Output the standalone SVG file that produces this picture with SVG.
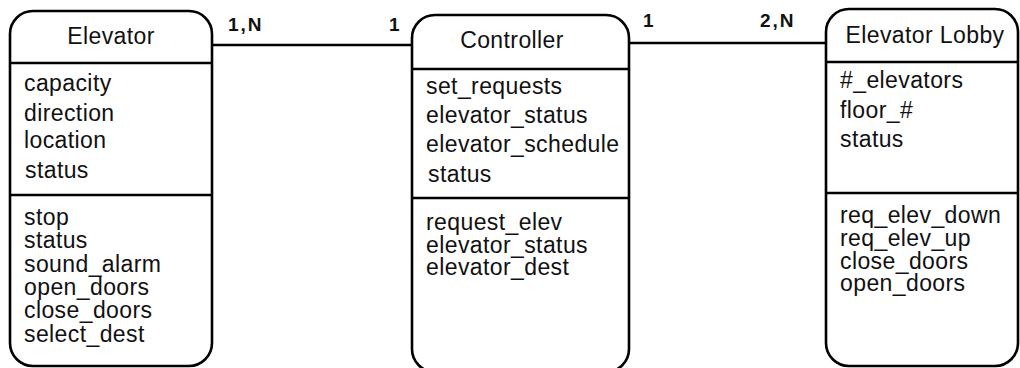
<svg xmlns="http://www.w3.org/2000/svg" width="1020" height="368" viewBox="0 0 1020 368">
<style>
.box{fill:#fff;stroke:#000;stroke-width:2.6}
.div{stroke:#000;stroke-width:2.6;fill:none}
.conn{stroke:#000;stroke-width:2.6;fill:none}
text{font-family:"Liberation Sans",Arial,Helvetica,sans-serif;font-size:23px;letter-spacing:0.4px;fill:#111}
.hdr{text-anchor:middle}
.card{font-weight:bold;font-size:19px;letter-spacing:2px}
</style>
<rect width="1020" height="368" fill="#fff"/>
<g id="connectors">
<line class="conn" x1="212" y1="45" x2="412" y2="45"/>
<line class="conn" x1="629" y1="43" x2="826" y2="43"/>
<text class="card" x="228" y="31">1,N</text>
<text class="card" x="389" y="31">1</text>
<text class="card" x="643" y="27">1</text>
<text class="card" x="760" y="27">2,N</text>
</g>
<g id="elevator">
<rect class="box" x="10" y="11" width="202" height="355" rx="23" ry="23"/>
<line class="div" x1="10" y1="63" x2="212" y2="63"/>
<line class="div" x1="10" y1="195" x2="212" y2="195"/>
<text class="hdr" x="111" y="44">Elevator</text>
<text x="24" y="91">capacity</text>
<text x="24" y="121">direction</text>
<text x="24" y="148">location</text>
<text x="25" y="178">status</text>
<text x="24" y="225">stop</text>
<text x="24" y="248">status</text>
<text x="24" y="272">sound_alarm</text>
<text x="24" y="295">open_doors</text>
<text x="24" y="318">close_doors</text>
<text x="24" y="342">select_dest</text>
</g>
<g id="controller">
<rect class="box" x="412" y="15" width="217" height="357" rx="23" ry="23"/>
<line class="div" x1="412" y1="69" x2="629" y2="69"/>
<line class="div" x1="412" y1="198" x2="629" y2="198"/>
<text class="hdr" x="512" y="48">Controller</text>
<text x="426" y="94">set_requests</text>
<text x="426" y="123">elevator_status</text>
<text x="426" y="152">elevator_schedule</text>
<text x="428" y="182">status</text>
<text x="426" y="230">request_elev</text>
<text x="426" y="253">elevator_status</text>
<text x="426" y="275">elevator_dest</text>
</g>
<g id="elevator-lobby">
<rect class="box" x="826" y="9" width="192" height="357" rx="23" ry="23"/>
<line class="div" x1="826" y1="62" x2="1018" y2="62"/>
<line class="div" x1="826" y1="193" x2="1018" y2="193"/>
<text class="hdr" x="925" y="43">Elevator Lobby</text>
<text x="840" y="88">#_elevators</text>
<text x="840" y="118">floor_#</text>
<text x="840" y="147">status</text>
<text x="840" y="223">req_elev_down</text>
<text x="840" y="246">req_elev_up</text>
<text x="840" y="269">close_doors</text>
<text x="840" y="291">open_doors</text>
</g>
</svg>
